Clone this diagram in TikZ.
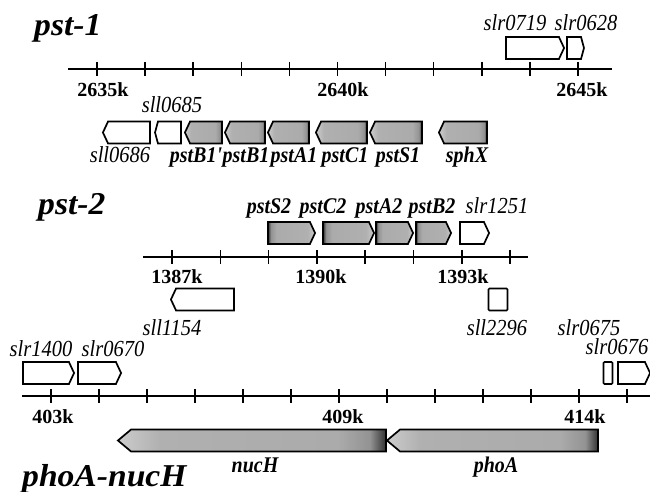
\documentclass[tikz,border=0pt]{standalone}
\usepackage{fontspec}
\setmainfont{Liberation Serif}
\usetikzlibrary{positioning,calc,shapes.symbols}
\newcommand{\OrfFont}{\fontsize{20.5}{23}\selectfont\itshape}
\newcommand{\PstFont}{\fontsize{20}{23}\selectfont\bfseries\itshape}
\newcommand{\ScaleFont}{\fontsize{20}{22}\selectfont\bfseries}
\newcommand{\Tall}[1]{\scalebox{1}[1.12]{#1}}
\newcommand{\TrackTitle}[1]{\scalebox{1.12}[1.06]{\fontsize{30}{32}\selectfont\bfseries\itshape #1}}
\def\GeneHeight{22pt}
\def\TickHalf{7}
\pgfdeclarehorizontalshading{genegray}{100bp}{%
  color(0bp)=(gray!40); color(25bp)=(gray!40); color(33bp)=(gray!62);
  color(66bp)=(gray!66); color(72bp)=(gray!85); color(75bp)=(black!80);
  color(100bp)=(black!80)}
\tikzset{
  axisline/.style={line width=1.5pt},
  tickmark/.style={line width=1.5pt},
  gene/.style={
    signal,
    draw=black,
    line width=1.7pt,
    inner sep=0pt,
    outer sep=0pt,
    minimum height=\GeneHeight,
    signal pointer angle=130
  },
  orfleft/.style={gene, fill=white, signal to=west},
  orfright/.style={gene, fill=white, signal to=east},
  orfbox/.style={rectangle, draw=black, fill=white, line width=1.7pt,
    rounded corners=1pt, inner sep=0pt, minimum height=\GeneHeight},
  pstleft/.style={gene, shading=genegray, signal to=west},
  pstright/.style={gene, shading=genegray, shading angle=180, signal to=east},
  orflabel/.style={font=\OrfFont, inner sep=0pt, anchor=base},
  pstlabel/.style={font=\PstFont, inner sep=0pt, anchor=base},
  scalelabel/.style={font=\ScaleFont, inner sep=0pt, anchor=base},
  titlelabel/.style={inner sep=0pt, anchor=base west}
}

\begin{document}
\begin{tikzpicture}[x=1pt,y=-1pt]
  \useasboundingbox (0,0) rectangle (650,492);

  % pst-1 locus
  \node[titlelabel] (titleOne) at (34,36) {\TrackTitle{pst-1}};
  \coordinate (axisOneW) at (68,69);
  \coordinate (axisOneE) at (612,69);
  \draw[axisline] (axisOneW) -- (axisOneE);
  \foreach \i in {0,...,10}
    \draw[tickmark] ({97+48.1*\i},{69-\TickHalf}) -- ({97+48.1*\i},{69+\TickHalf});
  \node[scalelabel] (kOne) at (103,97) {2635k};
  \node[scalelabel] (kTwo) at (343,97) {2640k};
  \node[scalelabel] (kThree) at (582,97) {2645k};

  \node[orfright, minimum width=58pt] (slr0719) at (532.5,48) {};
  \node[orfright, minimum width=17pt, signal pointer angle=150] (slr0628) at (574,48) {};
  \node[orflabel] at (515,31) {\Tall{slr0719}};
  \node[orflabel] at (586,31) {\Tall{slr0628}};

  \node[orfleft, minimum width=47pt] (sll0686) at (129,132.5) {};
  \node[orfleft, minimum width=26pt, signal pointer angle=150] (sll0685) at (169.5,132.5) {};
  \node[pstleft, minimum width=37pt] (pstB1p) at (206,132.5) {};
  \node[pstleft, minimum width=40pt] (pstB1) at (247.5,132.5) {};
  \node[pstleft, minimum width=41pt] (pstA1) at (291,132.5) {};
  \node[pstleft, minimum width=51pt] (pstC1) at (344,132.5) {};
  \node[pstleft, minimum width=52pt] (pstS1) at (398.5,132.5) {};
  \node[pstleft, minimum width=48pt] (sphX) at (465.5,132.5) {};
  \node[orflabel] at (172,113) {\Tall{sll0685}};
  \node[orflabel] at (120,162) {\Tall{sll0686}};
  \node[pstlabel] at (196,162) {\Tall{pstB1\textquotesingle}};
  \node[pstlabel] at (246,162) {\Tall{pstB1}};
  \node[pstlabel] at (294,162) {\Tall{pstA1}};
  \node[pstlabel] at (345,162) {\Tall{pstC1}};
  \node[pstlabel] at (398,162) {\Tall{pstS1}};
  \node[pstlabel] at (467,162) {\Tall{sphX}};

  % pst-2 locus
  \node[titlelabel] (titleTwo) at (38,214) {\TrackTitle{pst-2}};
  \coordinate (axisTwoW) at (143,257);
  \coordinate (axisTwoE) at (528,257);
  \draw[axisline] (axisTwoW) -- (axisTwoE);
  \foreach \i in {0,...,7}
    \draw[tickmark] ({172+48.3*\i},{257-\TickHalf}) -- ({172+48.3*\i},{257+\TickHalf});
  \node[scalelabel] (kFour) at (177,283) {1387k};
  \node[scalelabel] (kFive) at (321,283) {1390k};
  \node[scalelabel] (kSix) at (463,283) {1393k};

  \node[pstright, minimum width=47pt] (pstS2) at (289,233) {};
  \node[pstright, minimum width=51pt] (pstC2) at (346,233) {};
  \node[pstright, minimum width=37pt] (pstA2) at (392,233) {};
  \node[pstright, minimum width=35pt] (pstB2) at (431,233) {};
  \node[orfright, minimum width=29pt] (slr1251) at (472,233) {};
  \node[pstlabel] at (269,213) {\Tall{pstS2}};
  \node[pstlabel] at (323,213) {\Tall{pstC2}};
  \node[pstlabel] at (379,213) {\Tall{pstA2}};
  \node[pstlabel] at (432,213) {\Tall{pstB2}};
  \node[orflabel] at (497,213) {\Tall{slr1251}};

  \node[orfleft, minimum width=63pt] (sll1154) at (205,299.5) {};
  \node[orfbox, minimum width=19pt] (sll2296) at (498,299.5) {};
  \node[orflabel] at (172,335) {\Tall{sll1154}};
  \node[orflabel] at (497,335) {\Tall{sll2296}};
  \node[orflabel] at (589,335) {\Tall{slr0675}};

  % phoA-nucH locus
  \node[titlelabel] (titleThree) at (22,486) {\TrackTitle{phoA-nucH}};
  \coordinate (axisThreeW) at (22,396);
  \coordinate (axisThreeE) at (650,396);
  \draw[axisline] (axisThreeW) -- (axisThreeE);
  \foreach \i in {0,...,12}
    \draw[tickmark] ({51+48*\i},{396-\TickHalf}) -- ({51+48*\i},{396+\TickHalf});
  \node[scalelabel] (kSeven) at (53,423) {403k};
  \node[scalelabel] (kEight) at (343,423) {409k};
  \node[scalelabel] (kNine) at (585,423) {414k};

  \node[orfright, minimum width=51pt] (slr1400) at (46,373) {};
  \node[orfright, minimum width=43pt] (slr0670) at (97,373) {};
  \node[orfbox, minimum width=9pt] (slr0675) at (608,373) {};
  \node[orfright, minimum width=32pt] (slr0676) at (631.5,373) {};
  \node[orflabel] at (41,356) {\Tall{slr1400}};
  \node[orflabel] at (113,356) {\Tall{slr0670}};
  \node[orflabel] at (617,354) {\Tall{slr0676}};

  \node[pstleft, minimum width=268pt, signal pointer angle=80] (nucH) at (258.5,440.5) {};
  \node[pstleft, minimum width=211pt, signal pointer angle=80] (phoA) at (499,440.5) {};
  \node[pstlabel] at (255,472) {\Tall{nucH}};
  \node[pstlabel] at (496,472) {\Tall{phoA}};
\end{tikzpicture}
\end{document}
